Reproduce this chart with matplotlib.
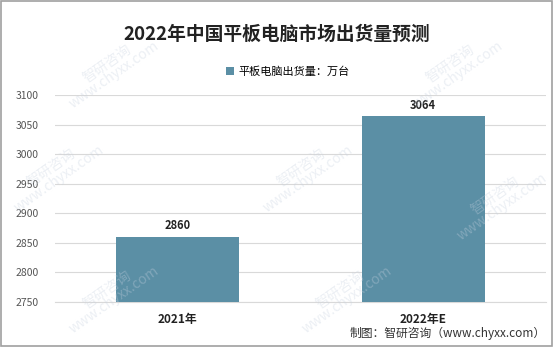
import matplotlib
matplotlib.use('Agg')
import matplotlib.pyplot as plt
from matplotlib.patches import Rectangle

plt.rcParams['font.family'] = ['Noto Sans CJK SC', 'DejaVu Sans']

categories = ['2021年', '2022年E']
values = [2860, 3064]
yticks = [2750, 2800, 2850, 2900, 2950, 3000, 3050, 3100]

bar_color = '#5b8fa5'

fig = plt.figure(figsize=(5.54, 3.47), dpi=100)
ax = fig.add_axes([0.0993, 0.1297, 0.8863, 0.5965])

x = range(len(categories))
bars = ax.bar(x, values, width=0.5, color=bar_color, label='平板电脑出货量：万台', zorder=3)
for xi, v in zip(x, values):
    ax.text(xi, v + 8, str(v), ha='center', va='bottom', fontsize=8, fontweight='bold', color='#222222')

ax.set_xlim(-0.5, 1.5)
ax.set_ylim(2750, 3100)
ax.set_yticks(yticks)
ax.set_yticklabels([str(t) for t in yticks], fontsize=7.5, color='#555555')
ax.set_xticks(list(x))
ax.set_xticklabels(categories, fontsize=8.5, fontweight='bold', color='#222222')
ax.tick_params(axis='both', length=0)
ax.tick_params(axis='y', pad=12)
ax.tick_params(axis='x', pad=8)
ax.grid(axis='y', color='#d9d9d9', linewidth=0.8, zorder=0)
for s in ['top', 'right', 'left']:
    ax.spines[s].set_visible(False)
ax.spines['bottom'].set_color('#d9d9d9')

fig.text(0.5, 0.9, '2022年中国平板电脑市场出货量预测', ha='center', va='center',
         fontsize=13.5, fontweight='bold', color='#222222')

leg = fig.legend(handles=[bars], loc='center', bbox_to_anchor=(0.52, 0.793), frameon=False,
                 fontsize=8, handlelength=0.7, handleheight=0.7, handletextpad=0.4)

fig.text(0.985, 0.04, '制图：智研咨询（www.chyxx.com）', ha='right', va='center',
         fontsize=8.5, color='#333333')

# faint watermarks
for (wx, wy) in [(0.2, 0.8), (0.82, 0.8), (0.1, 0.5), (0.55, 0.5), (0.2, 0.15), (0.62, 0.15), (0.9, 0.42)]:
    fig.text(wx, wy, '智研咨询\nwww.chyxx.com', rotation=35, ha='center', va='center',
             fontsize=10, color='#c8d2e0', alpha=0.35, zorder=0, linespacing=0.9)

fig.patches.append(Rectangle((0.002, 0.003), 0.995, 0.993, transform=fig.transFigure,
                             fill=False, edgecolor='#a0a0a0', linewidth=1.2))

fig.savefig('out.png', dpi=100)
